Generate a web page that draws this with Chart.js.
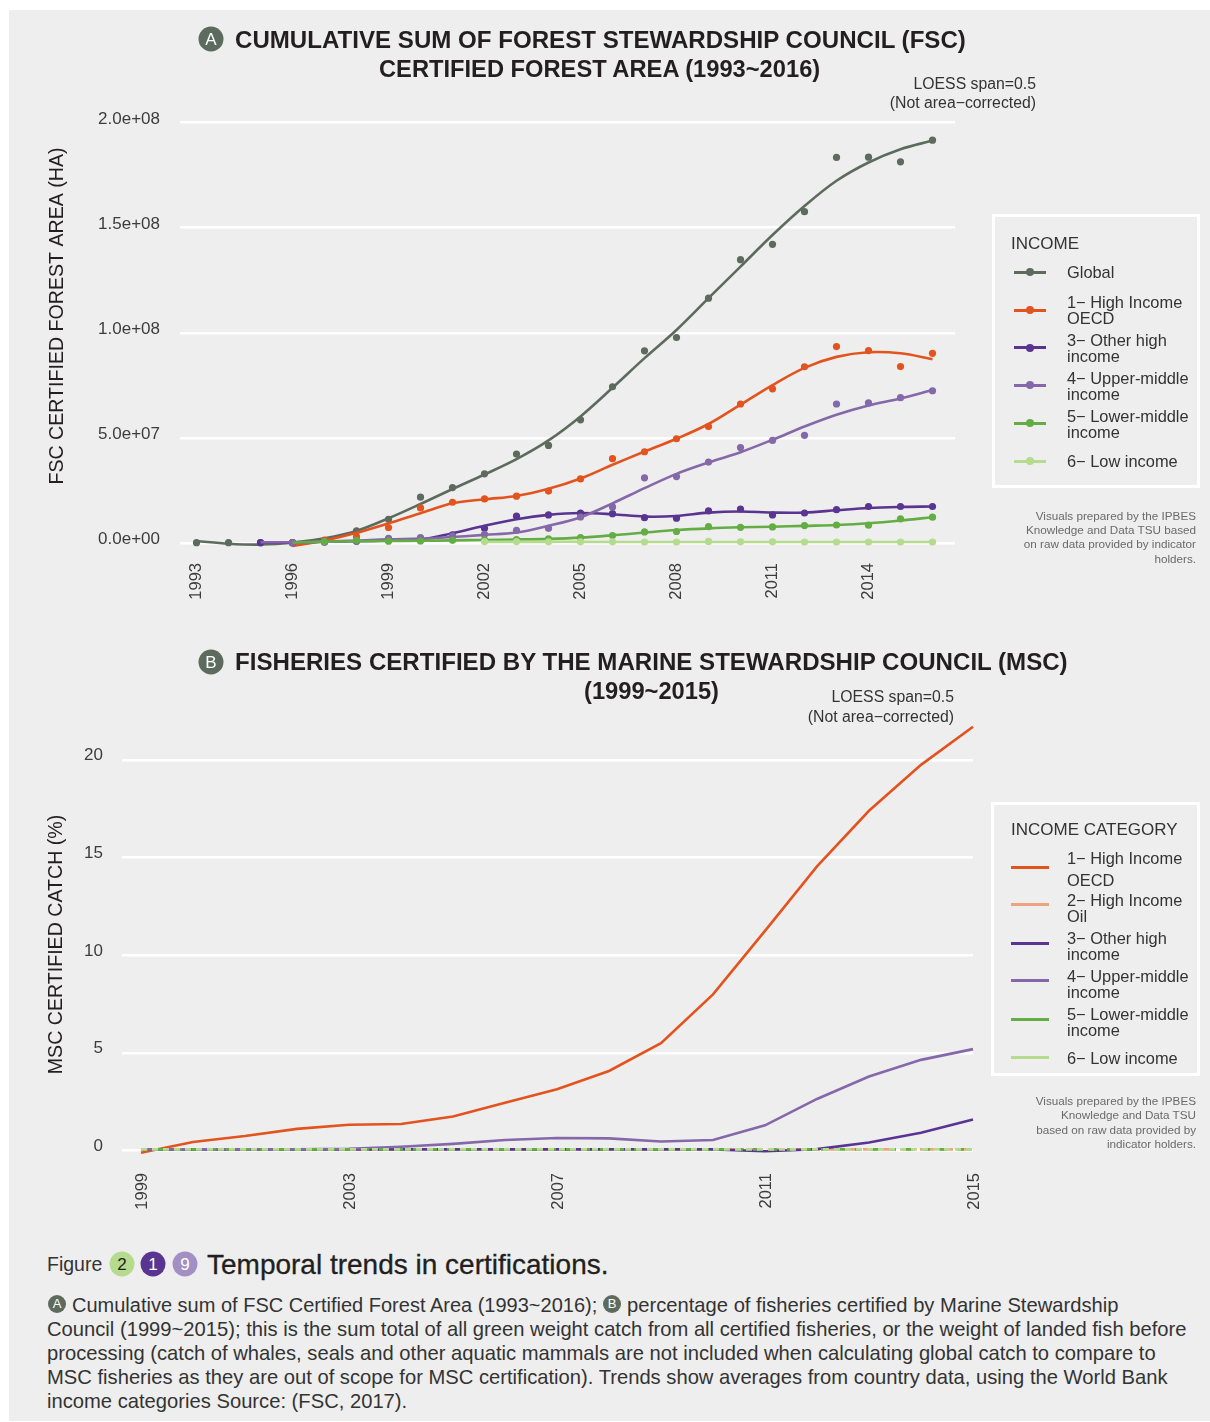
<!DOCTYPE html>
<html>
<head>
<meta charset="utf-8">
<title>Temporal trends in certifications</title>
<script src="https://cdn.jsdelivr.net/npm/chart.js@4"></script>
<style>
html, body { margin: 0; padding: 0; background: #fff; }
body { width: 1210px; height: 1422px; overflow: hidden; position: relative; font-family: "Liberation Sans", sans-serif; color: #231f20; }
#panel { position: absolute; left: 9px; top: 10px; width: 1201px; height: 1411px; background: #eee; }
canvas { position: absolute; left: 0; }
.t { position: absolute; white-space: nowrap; transform: translateY(-50%); }
.r { transform: translate(-100%, -50%); text-align: right; }
.title { font-size: 24.1px; font-weight: bold; }
.title2 { font-size: 23.7px; font-weight: bold; }
.loess { font-size: 15.8px; color: #333; }
.note { font-size: 11.7px; color: #6a6a6a; }
.leg { font-size: 16.4px; color: #333; }
.legt { font-size: 17px; color: #333; }
.box { position: absolute; border: 3px solid #fff; box-sizing: border-box; }
.sym { position: absolute; height: 3px; margin-top: -1.5px; }
.dot { position: absolute; width: 8px; height: 8px; margin: -4px 0 0 -4px; border-radius: 50%; }
.badge { position: absolute; border-radius: 50%; transform: translate(-50%, -50%); color: #fff; text-align: center; }
.para { font-size: 20.2px; color: #333; }
</style>
</head>
<body>
<div id="panel"></div>
<canvas id="chart-fsc" width="1210" height="620" style="top:0"></canvas>
<canvas id="chart-msc" width="1210" height="620" style="top:620px"></canvas>

<div class="badge" style="left:211px;top:39px;width:25px;height:25px;line-height:25px;background:#5d6b5e;font-size:17px">A</div>
<div class="t title" style="left:235px;top:39.5px">CUMULATIVE SUM OF FOREST STEWARDSHIP COUNCIL (FSC)</div>
<div class="t title2" style="left:379px;top:68.5px">CERTIFIED FOREST AREA (1993~2016)</div>
<div class="t r loess" style="left:1036px;top:83.5px">LOESS span=0.5</div>
<div class="t r loess" style="left:1036px;top:102.5px">(Not area−corrected)</div>

<div class="box" style="left:992px;top:214px;width:208px;height:274px"></div>
<div class="t legt" style="left:1011px;top:244px">INCOME</div>
<div id="legend-fsc"></div>
<div class="t r note" style="left:1196px;top:515px">Visuals prepared by the IPBES</div>
<div class="t r note" style="left:1196px;top:529px">Knowledge and Data TSU based</div>
<div class="t r note" style="left:1196px;top:543px">on raw data provided by indicator</div>
<div class="t r note" style="left:1196px;top:558px">holders.</div>

<div class="badge" style="left:211px;top:662px;width:25px;height:25px;line-height:25px;background:#5d6b5e;font-size:17px">B</div>
<div class="t title" style="left:235px;top:661.5px">FISHERIES CERTIFIED BY THE MARINE STEWARDSHIP COUNCIL (MSC)</div>
<div class="t title2" style="left:584px;top:690.5px">(1999~2015)</div>
<div class="t r loess" style="left:954px;top:697px">LOESS span=0.5</div>
<div class="t r loess" style="left:954px;top:717px">(Not area−corrected)</div>

<div class="box" style="left:991px;top:802px;width:209px;height:274px"></div>
<div class="t legt" style="left:1011px;top:830px">INCOME CATEGORY</div>
<div id="legend-msc"></div>
<div class="t r note" style="left:1196px;top:1100px">Visuals prepared by the IPBES</div>
<div class="t r note" style="left:1196px;top:1114px">Knowledge and Data TSU</div>
<div class="t r note" style="left:1196px;top:1129px">based on raw data provided by</div>
<div class="t r note" style="left:1196px;top:1143px">indicator holders.</div>

<div class="t" style="left:47px;top:1264px;font-size:19.5px;color:#333">Figure</div>
<div class="badge" style="left:122px;top:1264px;width:25px;height:25px;line-height:25px;background:#b5db8e;color:#231f20;font-size:17px">2</div>
<div class="badge" style="left:153px;top:1264px;width:25px;height:25px;line-height:25px;background:#5a3491;font-size:17px">1</div>
<div class="badge" style="left:185px;top:1264px;width:25px;height:25px;line-height:25px;background:#a48fc4;font-size:17px">9</div>
<div class="t" style="left:207px;top:1264.5px;font-size:28px;color:#231f20;-webkit-text-stroke:0.3px #231f20">Temporal trends in certifications.</div>

<div class="badge" style="left:57px;top:1304px;width:18px;height:18px;line-height:18px;background:#5d6b5e;font-size:13px">A</div>
<div class="t para" style="left:72px;top:1305px;font-size:20px">Cumulative sum of FSC Certified Forest Area (1993~2016);</div>
<div class="badge" style="left:612px;top:1304px;width:18px;height:18px;line-height:18px;background:#5d6b5e;font-size:13px">B</div>
<div class="t para" style="left:627px;top:1305px">percentage of fisheries certified by Marine Stewardship</div>
<div class="t para" style="left:47px;top:1329px">Council (1999~2015); this is the sum total of all green weight catch from all certified fisheries, or the weight of landed fish before</div>
<div class="t para" style="left:47px;top:1353px">processing (catch of whales, seals and other aquatic mammals are not included when calculating global catch to compare to</div>
<div class="t para" style="left:47px;top:1377px">MSC fisheries as they are out of scope for MSC certification). Trends show averages from country data, using the World Bank</div>
<div class="t para" style="left:47px;top:1401px">income categories Source: (FSC, 2017).</div>

<script>
// Panel A, values in millions of hectares, one slot per year 1993..2016
const fscYears = [1993,1994,1995,1996,1997,1998,1999,2000,2001,2002,2003,2004,2005,2006,2007,2008,2009,2010,2011,2012,2013,2014,2015,2016];
const fscYearTicks = [1993,1996,1999,2002,2005,2008,2011,2014];
const fscValueTicks = [0,50,100,150,200];
const fscValueLabels = ['0.0e+00','5.0e+07','1.0e+08','1.5e+08','2.0e+08'];

const globalDots = [0.3,0.3,0.3,0.3,1,5.9,11.4,21.9,26.5,33,42.4,46.5,58.7,74.4,91.5,97.8,116.5,134.8,142.1,157.6,183.4,183.5,181.3,191.6];
const globalCurve = [1.1,-0.2,-0.6,0.3,2.4,5.9,11.9,18.7,25.8,32.7,40,48.9,60.3,73.9,88,101.4,116.5,131.5,146.5,160.3,172.3,181,187.3,191.4];
const oecdDots = [null,null,null,0.3,1.5,3.2,7.5,16.8,19.5,21.1,22.4,24.8,30.6,40.2,43.5,49.7,55.5,66.2,73.4,83.9,93.5,91.6,84,90.3];
const oecdCurve = [null,null,null,-1.3,1.3,5,9.5,14.3,19,20.9,22.5,25.9,30.8,37.3,43.6,49.7,56.7,65.9,75.2,83.4,88.6,90.8,90.3,87.5];
const otherHighDots = [null,null,0.3,0.3,0.5,1,1.5,2,4,7.1,12.9,13.5,14.3,14.1,12.2,11.9,15.4,16.3,13.5,14.4,16,17.5,17.5,17.5];
const otherHighCurve = [null,null,0.3,0.4,0.8,1,1.3,1.7,4.8,8.3,11.4,13.5,14.4,13.8,12.7,13,14.6,15.1,14.6,14.6,15.7,16.8,17.3,17.5];
const upperDots = [null,null,null,0.3,0.8,1.3,2.4,2.7,3.5,4.3,6.2,7.1,12.5,17.3,31.1,31.7,38.6,45.5,48.9,51.3,66.2,66.7,69.2,72.5];
const upperCurve = [null,null,0.5,0.5,0.8,1.3,1.9,2.2,3,4,5.1,8.3,12.4,19,26.2,33,38.4,43.3,49.2,55.5,61.1,65.5,68.8,72.9];
const lowerDots = [null,null,null,null,0.8,1.4,1,1.1,1.4,1.6,1.8,2.1,2.7,3.7,5.4,5.6,7.9,7.6,7.8,8.4,8.7,8.6,11.6,12.4];
const lowerCurve = [null,null,null,0.3,0.8,1,1.1,1.2,1.4,1.6,1.8,2.1,2.7,3.8,5.1,6.3,7.1,7.6,7.9,8.3,8.7,9.5,10.8,12.4];
const lowDots = [null,null,null,null,null,null,null,null,null,0.8,0.8,0.7,0.7,0.7,0.6,0.6,0.9,0.7,0.7,0.6,0.6,0.6,0.6,0.6];
const lowCurve = [null,null,null,null,null,null,null,null,null,0.7,0.7,0.7,0.7,0.6,0.6,0.6,0.6,0.6,0.6,0.6,0.6,0.6,0.6,0.6];

// Panel B, percent of catch, 1999..2015
const mscYears = [1999,2000,2001,2002,2003,2004,2005,2006,2007,2008,2009,2010,2011,2012,2013,2014,2015];
const mscYearTicks = [1999,2003,2007,2011,2015];
const mscValueTicks = [0,5,10,15,20];
const mscOecd = [-0.1,0.45,0.75,1.12,1.33,1.37,1.75,2.45,3.15,4.08,5.5,8,11.25,14.55,17.4,19.75,21.7];
const mscOil = [0.07,0.07,0.07,0.07,0.07,0.07,0.07,0.07,0.07,0.07,0.07,0.07,0.07,0.07,0.07,0.07,0.07];
const mscOtherHigh = [0.07,0.07,0.07,0.07,0.07,0.07,0.07,0.07,0.07,0.07,0.07,0.07,-0.03,0.08,0.42,0.92,1.6];
const mscUpper = [0.07,0.07,0.07,0.07,0.1,0.2,0.35,0.55,0.65,0.63,0.47,0.55,1.3,2.65,3.8,4.65,5.2];
const mscLower = [0.07,0.07,0.07,0.07,0.07,0.07,0.07,0.07,0.07,0.07,0.07,0.07,0.07,0.07,0.07,0.07,0.07];
const mscLow = [0.07,0.07,0.07,0.07,0.07,0.07,0.07,0.07,0.07,0.07,0.07,0.07,0.07,0.07,0.07,0.07,0.07];

const GREY = '#5d6b5e', ORANGE = '#e2531e', OIL = '#eea27e', PURPLE = '#5a3491', LILAC = '#8468a9', GREEN = '#63ad44', LIME = '#b5db8e';

function toPoints(years, values) {
    return years.map((year, i) => ({ x: year, y: values[i] })).filter(p => p.y !== null);
}

function curveSet(years, values, color, dash) {
    return {
        type: 'line',
        data: toPoints(years, values),
        borderColor: color,
        borderWidth: 2.6,
        borderDash: dash || [],
        pointRadius: 0,
        tension: 0,
        clip: false
    };
}

function smoothSet(values, color) {
    return Object.assign(curveSet(fscYears, values, color), { tension: 0.35 });
}

function dotSet(values, color) {
    return {
        type: 'line',
        data: toPoints(fscYears, values),
        showLine: false,
        pointRadius: 3.6,
        pointBorderWidth: 0,
        pointBackgroundColor: color,
        clip: false
    };
}

function seriesPair(curve, dots, color) {
    return [smoothSet(curve, color), dotSet(dots, color)];
}

function fixAxis(prop, size) {
    return scale => {
        scale[prop] = size;
        // no label overhang, the plot area stays where layout.padding puts it
        scale.paddingLeft = scale.paddingRight = scale.paddingTop = scale.paddingBottom = 0;
    };
}

function buildChart(id, cfg) {
    // first dataset in the array is painted last by Chart.js, so flip them
    return new Chart(document.getElementById(id), {
        type: 'line',
        data: { datasets: cfg.datasets.slice().reverse() },
        options: {
            responsive: false,
            animation: false,
            devicePixelRatio: 1,
            layout: { padding: cfg.padding },
            plugins: { legend: { display: false }, tooltip: { enabled: false } },
            scales: {
                x: {
                    type: 'linear',
                    min: cfg.xMin,
                    max: cfg.xMax,
                    grid: { display: false },
                    border: { display: false },
                    afterBuildTicks: scale => { scale.ticks = cfg.xTicks.map(v => ({ value: v })); },
                    afterFit: fixAxis('height', cfg.xHeight),
                    ticks: {
                        autoSkip: false,
                        maxRotation: 90,
                        minRotation: 90,
                        padding: cfg.xPad,
                        labelOffset: cfg.xLabelOffset,
                        color: '#3c3c3c',
                        font: { family: 'Liberation Sans', size: 16.5 },
                        callback: v => String(v)
                    }
                },
                y: {
                    min: cfg.yMin,
                    max: cfg.yMax,
                    grid: { color: '#fff', lineWidth: 2.5, drawTicks: false },
                    border: { display: false },
                    afterBuildTicks: scale => { scale.ticks = cfg.yTicks.map(v => ({ value: v })); },
                    afterFit: fixAxis('width', cfg.yWidth),
                    title: {
                        display: true,
                        text: cfg.yTitle,
                        color: '#231f20',
                        font: { family: 'Liberation Sans', size: 19.6 },
                        padding: { top: cfg.yTitleLeft, bottom: 0 }
                    },
                    ticks: {
                        padding: cfg.yPad,
                        labelOffset: cfg.yLabelOffset,
                        color: '#3c3c3c',
                        font: { family: 'Liberation Sans', size: cfg.yFont },
                        callback: cfg.yLabel
                    }
                }
            }
        }
    });
}

buildChart('chart-fsc', {
    padding: { top: 83, right: 255, bottom: 0, left: 0 },
    xMin: 1992.484, xMax: 2016.703, xTicks: fscYearTicks, xHeight: 71, xPad: 6, xLabelOffset: 0,
    yMin: -2.71, yMax: 218.77, yTicks: fscValueTicks, yWidth: 180, yPad: 20, yFont: 17, yLabelOffset: -3.5,
    yLabel: v => fscValueLabels[fscValueTicks.indexOf(v)],
    yTitle: 'FSC CERTIFIED FOREST AREA (HA)', yTitleLeft: 46,
    datasets: [
        ...seriesPair(globalCurve, globalDots, GREY),
        ...seriesPair(oecdCurve, oecdDots, ORANGE),
        ...seriesPair(otherHighCurve, otherHighDots, PURPLE),
        ...seriesPair(upperCurve, upperDots, LILAC),
        ...seriesPair(lowerCurve, lowerDots, GREEN),
        ...seriesPair(lowCurve, lowDots, LIME)
    ]
});

buildChart('chart-msc', {
    padding: { top: 113, right: 237, bottom: 0, left: 0 },
    xMin: 1998.635, xMax: 2015, xTicks: mscYearTicks, xHeight: 84, xPad: 9, xLabelOffset: 1,
    yMin: -0.27, yMax: 21.38, yTicks: mscValueTicks, yWidth: 122, yPad: 19, yFont: 17, yLabelOffset: -4.5,
    yLabel: v => String(v),
    yTitle: 'MSC CERTIFIED CATCH (%)', yTitleLeft: 45,
    datasets: [
        curveSet(mscYears, mscOecd, ORANGE),
        curveSet(mscYears, mscOil, OIL, [14, 5]),
        curveSet(mscYears, mscOtherHigh, PURPLE),
        curveSet(mscYears, mscUpper, LILAC),
        curveSet(mscYears, mscLower, GREEN, [7, 10]),
        curveSet(mscYears, mscLow, LIME, [6, 5])
    ]
});

// HTML legends, the wrapped two line labels do not fit the built in one
const fscLegendLabels = [
    { lines: [['Global', 272]], y: 272, color: GREY },
    { lines: [['1− High Income', 302], ['OECD', 318]], y: 310, color: ORANGE },
    { lines: [['3− Other high', 340], ['income', 356]], y: 347.5, color: PURPLE },
    { lines: [['4− Upper-middle', 377.5], ['income', 393.5]], y: 385, color: LILAC },
    { lines: [['5− Lower-middle', 415.5], ['income', 431.5]], y: 423, color: GREEN },
    { lines: [['6− Low income', 461]], y: 461, color: LIME }
];
const mscLegendLabels = [
    { lines: [['1− High Income', 857.5], ['OECD', 879.5]], y: 867, color: ORANGE },
    { lines: [['2− High Income', 899.5], ['Oil', 915.5]], y: 904.5, color: OIL },
    { lines: [['3− Other high', 937.5], ['income', 953.5]], y: 943, color: PURPLE },
    { lines: [['4− Upper-middle', 975.5], ['income', 991.5]], y: 980.5, color: LILAC },
    { lines: [['5− Lower-middle', 1013.5], ['income', 1029.5]], y: 1019, color: GREEN },
    { lines: [['6− Low income', 1058]], y: 1057, color: LIME }
];

function buildLegend(id, items, symLeft, symWidth, withDot) {
    let html = '';
    items.forEach(item => {
        html += `<div class="sym" style="left:${symLeft}px;top:${item.y}px;width:${symWidth}px;background:${item.color}"></div>`;
        if (withDot) html += `<div class="dot" style="left:${symLeft + symWidth / 2}px;top:${item.y}px;background:${item.color}"></div>`;
        item.lines.forEach(line => {
            html += `<div class="t leg" style="left:1067px;top:${line[1]}px">${line[0]}</div>`;
        });
    });
    document.getElementById(id).innerHTML = html;
}

buildLegend('legend-fsc', fscLegendLabels, 1014, 32, true);
buildLegend('legend-msc', mscLegendLabels, 1011, 38, false);
</script>
</body>
</html>
